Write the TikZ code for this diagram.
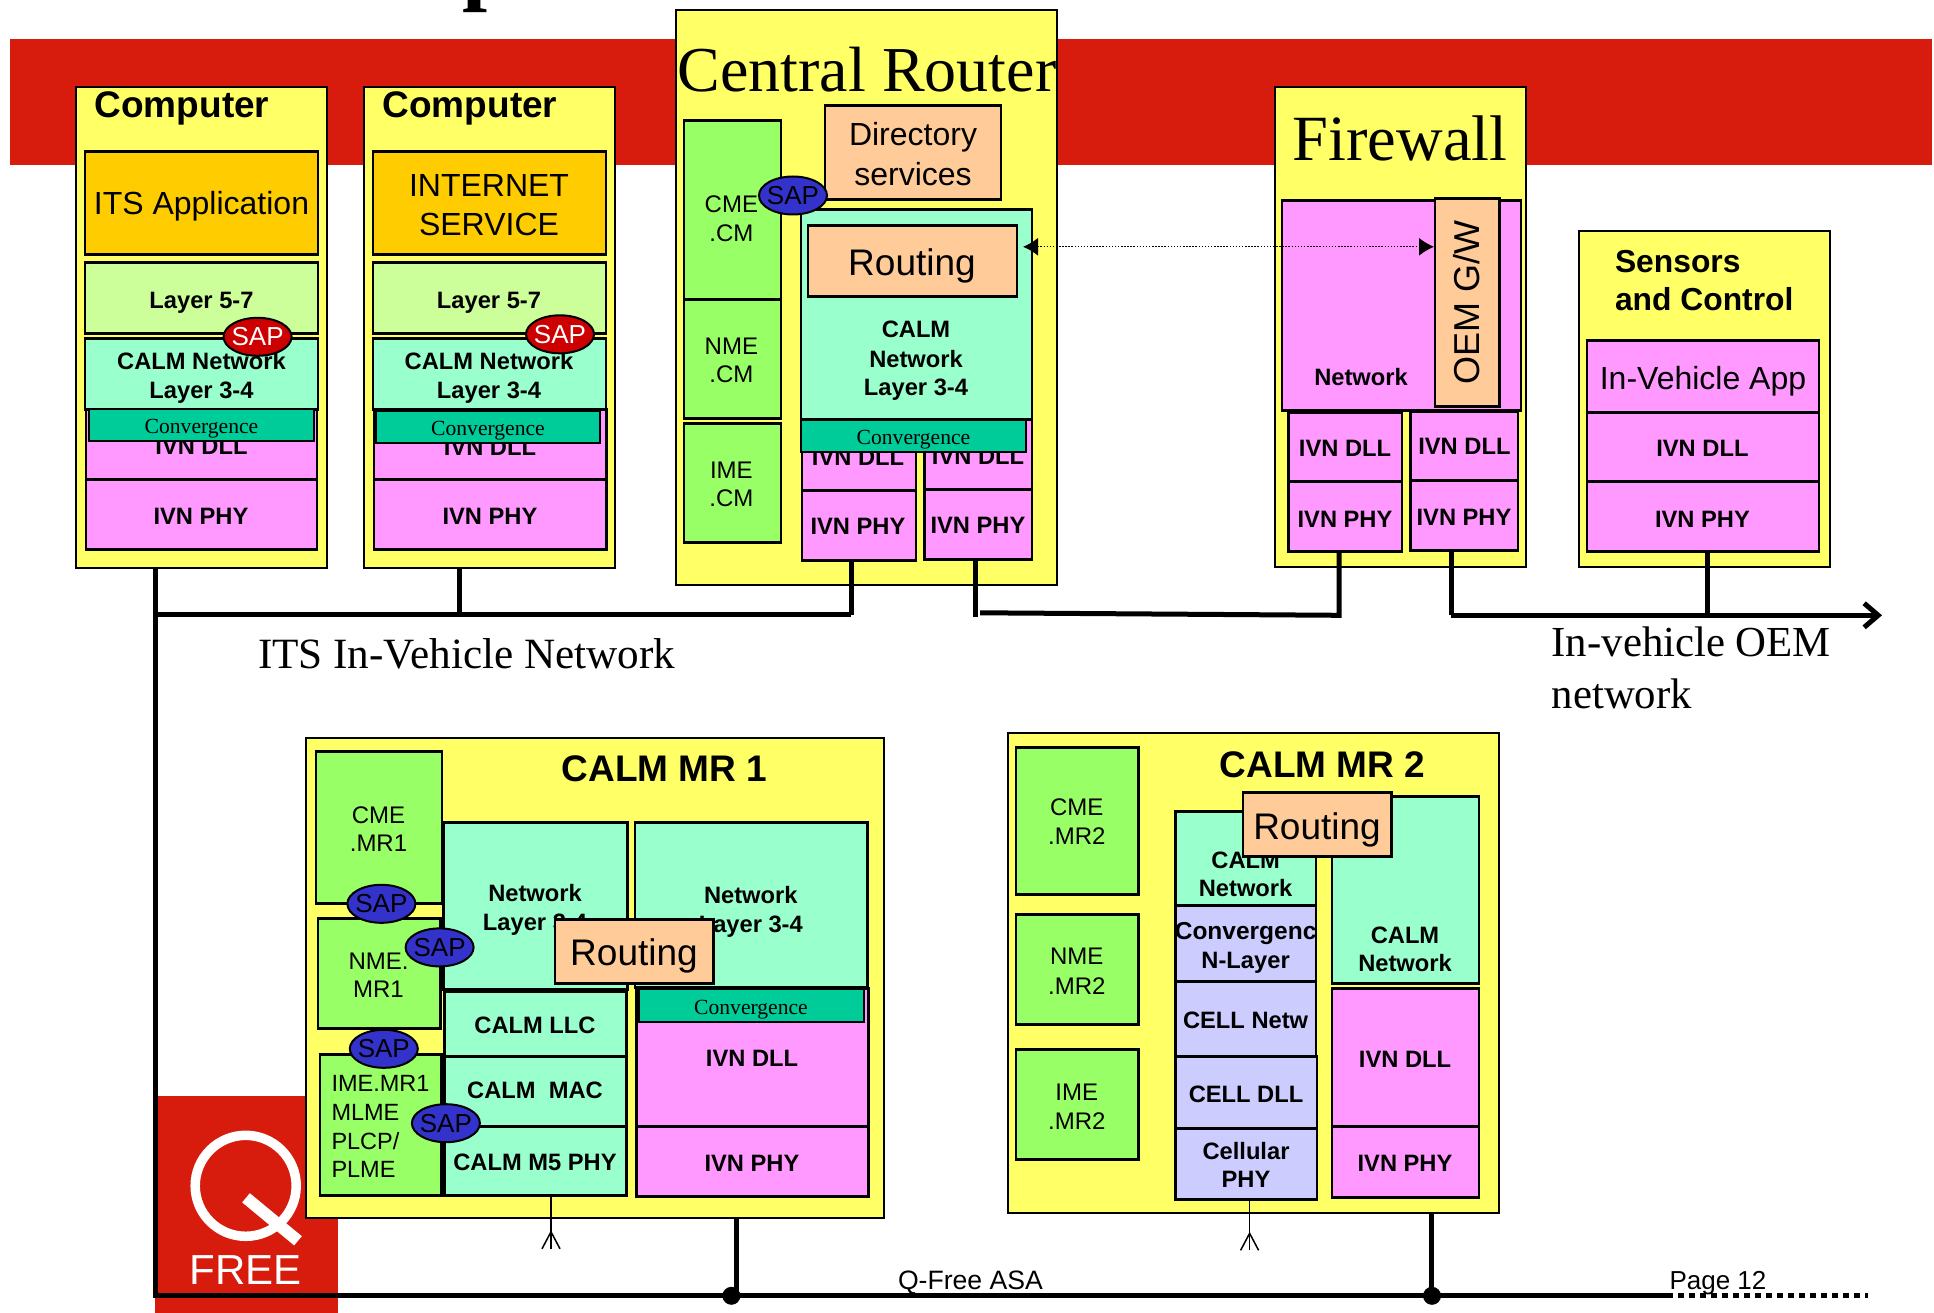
\documentclass[tikz,border=0pt]{standalone}
\usepackage{fontspec}
\setmainfont{Liberation Sans}
\newfontfamily\serifx{Liberation Serif}
\usetikzlibrary{shapes.geometric,arrows.meta}
\definecolor{bandred}{RGB}{215,27,13}
\definecolor{cyel}{RGB}{255,255,102}
\definecolor{corg}{RGB}{255,204,0}
\definecolor{clime}{RGB}{204,255,153}
\definecolor{cmint}{RGB}{153,255,204}
\definecolor{cteal}{RGB}{0,204,153}
\definecolor{cpink}{RGB}{255,153,255}
\definecolor{cgreen}{RGB}{153,255,102}
\definecolor{cpeach}{RGB}{255,204,153}
\definecolor{clav}{RGB}{204,204,255}
\definecolor{sapred}{RGB}{204,0,0}
\definecolor{sapblue}{RGB}{51,51,204}
\tikzset{
  boxbase/.style={draw=black,rectangle,inner sep=0pt,outer sep=0pt,line width=2.8pt},
  outerbox/.style={boxbase,fill=cyel,line width=2pt},
  orangebox/.style={boxbase,fill=corg},
  limebox/.style={boxbase,fill=clime},
  mintbox/.style={boxbase,fill=cmint},
  tealbox/.style={boxbase,fill=cteal,line width=2pt},
  pinkbox/.style={boxbase,fill=cpink},
  greenbox/.style={boxbase,fill=cgreen},
  peachbox/.style={boxbase,fill=cpeach},
  lavbox/.style={boxbase,fill=clav},
  sapnode/.style={ellipse,draw=black,line width=2pt,minimum width=68pt,minimum height=38pt,inner sep=-7pt,font=\fontsize{26}{26}\selectfont},
  sapr/.style={sapnode,fill=sapred,text=white},
  sapb/.style={sapnode,fill=sapblue,text=black},
  lbl/.style={inner sep=0pt,outer sep=0pt,anchor=base,align=center},
  wire/.style={line width=5pt,draw=black},
  antenna/.style={line width=1.5pt,draw=black},
  dotlink/.style={line width=1.3pt,dash pattern=on 1.5pt off 1.6pt,{Latex[length=15pt,width=18pt]}-{Latex[length=15pt,width=18pt]}}
}
\newcounter{lblc}
\newcommand\bx[6]{\pgfmathsetmacro\cxx{(#3+#5)/2}\pgfmathsetmacro\cyy{(#4+#6)/2}\pgfmathsetmacro\www{#5-#3}\pgfmathsetmacro\hhh{#6-#4}\node[#2,minimum width=\www pt,minimum height=\hhh pt] (#1) at (\cxx,\cyy) {};}
\newcommand\tx[5][]{\stepcounter{lblc}\pgfmathsetmacro\byy{#3+.36*#4}\node[lbl,font=\fontsize{#4}{#4}\selectfont#1] (t\thelblc) at (#2,\byy) {#5};}
\begin{document}
\begin{tikzpicture}[x=1pt,y=-1pt]
\useasboundingbox (0,-0.8) rectangle (1934,1312.2);
\clip (0,-0.8) rectangle (1934,1312.2);
\fill[white] (0,-0.8) rectangle (1934,1312.2);
% title fragment
\node[inner sep=0pt,outer sep=0pt,anchor=base west,font=\fontsize{90}{90}\selectfont\serifx\bfseries] (titlep) at (462,-7.5) {p};
% band and logo
\bx{band}{rectangle,fill=bandred,inner sep=0pt,outer sep=0pt}{10}{38}{1932}{164}
\bx{logo}{rectangle,fill=bandred,inner sep=0pt,outer sep=0pt}{155}{1095}{338}{1313}
\draw[white,line width=9.5pt] (245.7,1185) circle[radius=50.5];
\draw[white,line width=12pt] (246,1197) -- (298,1240);
\tx[\bfseries]{246}{1268.5}{42}{\textcolor{white}{\mdseries FREE}}
% Computer 1
\bx{cA}{outerbox}{76}{86}{327}{567}
\tx[\bfseries]{182}{103}{37}{Computer}
\bx{cAapp}{orangebox}{85}{150.5}{318}{254}
\tx{201.5}{202.5}{32}{ITS Application}
\bx{cAl57}{limebox}{85}{262}{318}{333}
\tx[\bfseries]{201.5}{299}{23.7}{Layer 5-7}
\bx{cAnet}{mintbox}{85}{338}{318}{408.5}
\tx[\bfseries]{201.5}{360}{23.7}{CALM Network}
\tx[\bfseries]{201.5}{389}{23.7}{Layer 3-4}
\bx{cAdll}{pinkbox}{86}{408.5}{317}{479}
\tx[\bfseries]{201.5}{445}{23.7}{IVN DLL}
\bx{cAcon}{tealbox}{89}{408.5}{313.5}{440.6}
\tx[\serifx]{201.5}{425.4}{21.6}{Convergence}
\bx{cAphy}{pinkbox}{86}{479}{317}{549}
\tx[\bfseries]{201}{514.7}{23.7}{IVN PHY}
\node[sapr] (cAsap) at (257.6,336) {SAP};
% Computer 2
\bx{cB}{outerbox}{364}{86}{615}{567}
\tx[\bfseries]{470}{103}{37}{Computer}
\bx{cBapp}{orangebox}{373}{150.5}{606}{254}
\tx{489}{184}{32}{INTERNET}
\tx{489}{223}{32}{SERVICE}
\bx{cBl57}{limebox}{373}{262}{606}{333}
\tx[\bfseries]{489}{299}{23.7}{Layer 5-7}
\bx{cBnet}{mintbox}{373}{338}{606}{408.5}
\tx[\bfseries]{489}{360}{23.7}{CALM Network}
\tx[\bfseries]{489}{389}{23.7}{Layer 3-4}
\bx{cBdll}{pinkbox}{374}{408.5}{606.5}{479}
\tx[\bfseries]{490}{446}{23.7}{IVN DLL}
\bx{cBcon}{tealbox}{376}{410}{600}{442}
\tx[\serifx]{488}{427}{21.6}{Convergence}
\bx{cBphy}{pinkbox}{374}{479}{606.5}{549}
\tx[\bfseries]{490}{515.6}{23.7}{IVN PHY}
\node[sapr] (cBsap) at (560,333.5) {SAP};
% Central Router
\bx{cr}{outerbox}{676}{9.4}{1057}{584}
\tx[\serifx]{867}{68}{64}{Central Router}
\bx{crCME}{greenbox}{684}{120}{781}{299}
\tx{731.4}{203}{24}{CME}
\tx{731.4}{232}{24}{.CM}
\bx{crNME}{greenbox}{684}{299}{781}{417.5}
\tx{731.4}{345}{24}{NME}
\tx{731.4}{373.5}{24}{.CM}
\bx{crIME}{greenbox}{684}{423}{781}{541.6}
\tx{731.4}{468.6}{24}{IME}
\tx{731.4}{496.7}{24}{.CM}
\bx{crDir}{peachbox}{825}{105}{1001}{199}
\tx{913}{133.5}{32}{Directory}
\tx{913}{173}{32}{services}
\bx{crNet}{mintbox}{801}{208.6}{1032}{419}
\bx{crRout}{peachbox}{808}{225}{1017}{296}
\tx{912}{261}{37}{Routing}
\tx[\bfseries]{916}{328.6}{23.7}{CALM}
\tx[\bfseries]{916}{358}{23.7}{Network}
\tx[\bfseries]{916}{385.7}{23.7}{Layer 3-4}
\bx{crDllA}{pinkbox}{802}{419}{916}{490}
\tx[\bfseries]{858}{456}{23.7}{IVN DLL}
\bx{crDllB}{pinkbox}{924.5}{419}{1032}{488.6}
\tx[\bfseries]{978}{455.5}{23.7}{IVN DLL}
\bx{crCon}{tealbox}{801}{419}{1026}{451}
\tx[\serifx]{913.5}{436}{21.6}{Convergence}
\bx{crPhyA}{pinkbox}{802}{490}{916}{560}
\tx[\bfseries]{858}{525}{23.7}{IVN PHY}
\bx{crPhyB}{pinkbox}{924.5}{488.6}{1032}{559}
\tx[\bfseries]{978}{524.5}{23.7}{IVN PHY}
\node[sapb] (crSap) at (793,194.7) {SAP};
% Firewall
\bx{fw}{outerbox}{1274.7}{86}{1526}{566.5}
\tx[\serifx]{1400}{136}{64.5}{Firewall}
\bx{fwNet}{pinkbox}{1282}{199.5}{1521}{409.5}
\tx[\bfseries]{1361}{376}{23.7}{Network}
\bx{fwGW}{peachbox}{1435}{198}{1499.6}{406}
\stepcounter{lblc}
\node[inner sep=0pt,outer sep=0pt,rotate=90,font=\fontsize{36}{36}\selectfont] (fwGWt) at (1467,302) {OEM G/W};
\bx{fwDllA}{pinkbox}{1288.6}{411.6}{1402}{481}
\tx[\bfseries]{1345}{447.4}{23.7}{IVN DLL}
\bx{fwPhyA}{pinkbox}{1288.6}{481}{1402}{551}
\tx[\bfseries]{1345}{517.7}{23.7}{IVN PHY}
\bx{fwDllB}{pinkbox}{1410.6}{411}{1518}{480}
\tx[\bfseries]{1464.4}{445.3}{23.7}{IVN DLL}
\bx{fwPhyB}{pinkbox}{1410.6}{480}{1518}{550}
\tx[\bfseries]{1464}{516.5}{23.7}{IVN PHY}
% Sensors
\bx{se}{outerbox}{1579}{230}{1830}{566.5}
\node[lbl,anchor=base west,font=\fontsize{31.8}{31.8}\selectfont\bfseries] (seTa) at (1615,272) {Sensors};
\node[lbl,anchor=base west,font=\fontsize{31.8}{31.8}\selectfont\bfseries] (seTb) at (1615,310) {and Control};
\bx{seApp}{pinkbox}{1587}{340}{1819}{411.6}
\tx{1703}{376.7}{32}{In-Vehicle App}
\bx{seDll}{pinkbox}{1587}{411.6}{1819}{481}
\tx[\bfseries]{1702.4}{447.4}{23.7}{IVN DLL}
\bx{sePhy}{pinkbox}{1587}{481}{1819}{551}
\tx[\bfseries]{1702.4}{517.7}{23.7}{IVN PHY}
% upper wiring
\coordinate (busL) at (155,614);
\coordinate (wB) at (459,614);
\coordinate (wCRa) at (851,614);
\coordinate (wCRb) at (975,616);
\coordinate (busBs) at (980,612);
\coordinate (wFa) at (1339,614.5);
\coordinate (wFb) at (1451,614.5);
\coordinate (wS) at (1707,614.5);
\coordinate (busEnd) at (1882,614.5);
\coordinate (busB) at (155,1295);
\coordinate (dotA) at (731.4,1295);
\coordinate (dotB) at (1432,1295);
\coordinate (busS) at (1667,1295);
\coordinate (busT) at (1868,1295);
\draw[wire] (busL |- cA.south) -- (busB) -- (busS);
\draw[wire,dash pattern=on 6pt off 5pt] (busS) -- (busT);
\draw[wire] (busL) -- (wCRa);
\draw[wire] (wB |- cB.south) -- (wB);
\draw[wire] (wCRa |- crPhyA.south) -- (wCRa);
\draw[wire] (wCRb |- crPhyB.south) -- (wCRb);
\draw[wire] (busBs) -- (wFa) -- (wFa |- fwPhyA.south);
\draw[wire] (wFb |- fwPhyB.south) -- (wFb);
\draw[wire] (wS |- sePhy.south) -- (wS);
\draw[wire,-{Straight Barb[length=14pt,width=24pt,line width=5pt]}] (wFb) -- (busEnd);
% dotted link
\coordinate (dlA) at (1023,246);
\coordinate (dlB) at (1434,246);
\draw[dotlink] (dlA) -- (dlB);
% free texts
\node[lbl,anchor=base west,font=\fontsize{43.2}{43.2}\selectfont\serifx] (itsT) at (258,668) {ITS In-Vehicle Network};
\node[lbl,anchor=base west,font=\fontsize{42.8}{42.8}\selectfont\serifx] (oemA) at (1551.7,656) {In-vehicle OEM};
\node[lbl,anchor=base west,font=\fontsize{42.8}{42.8}\selectfont\serifx] (oemB) at (1551.7,708) {network};
% CALM MR 1
\bx{mA}{outerbox}{306}{737}{884}{1217}
\tx[\bfseries]{664.6}{767.5}{37}{CALM MR 1}
\bx{mACME}{greenbox}{316}{751}{442}{903}
\tx{378.5}{813.8}{24}{CME}
\tx{378.5}{842}{24}{.MR1}
\bx{mANME}{greenbox}{318}{918}{440.5}{1027.5}
\tx{378.5}{960}{24}{NME.}
\tx{378.5}{988}{24}{MR1}
\bx{mAIME}{greenbox}{320}{1054}{441.5}{1195}
\node[lbl,anchor=base west,font=\fontsize{23.5}{23.5}\selectfont] (mAi1) at (331.5,1090.5) {IME.MR1};
\node[lbl,anchor=base west,font=\fontsize{23.5}{23.5}\selectfont] (mAi2) at (331.5,1120) {MLME};
\node[lbl,anchor=base west,font=\fontsize{23.5}{23.5}\selectfont] (mAi3) at (331.5,1148.5) {PLCP/};
\node[lbl,anchor=base west,font=\fontsize{23.5}{23.5}\selectfont] (mAi4) at (331.5,1177) {PLME};
\bx{mANetA}{mintbox}{443.4}{822}{627.6}{988.5}
\tx[\bfseries]{535}{892}{23.7}{Network}
\tx[\bfseries]{535}{921.6}{23.7}{Layer 3-4}
\bx{mANetB}{mintbox}{635}{822}{867.6}{986.6}
\tx[\bfseries]{750.8}{894}{23.7}{Network}
\tx[\bfseries]{750.8}{923}{23.7}{Layer 3-4}
\bx{mALLC}{mintbox}{444.4}{991}{626.7}{1056}
\tx[\bfseries]{535}{1023.7}{23.7}{CALM LLC}
\bx{mAMAC}{mintbox}{444.4}{1056}{626.7}{1125.5}
\tx[\bfseries]{535}{1089.5}{23.7}{CALM\ \ MAC}
\bx{mAPHY}{mintbox}{444.4}{1125.5}{626.7}{1195}
\tx[\bfseries]{535}{1161}{23.7}{CALM M5 PHY}
\bx{mADll}{pinkbox}{636.4}{988}{868.5}{1126}
\tx[\bfseries]{752}{1057}{23.7}{IVN DLL}
\bx{mACon}{tealbox}{639}{988.5}{863.7}{1020.7}
\tx[\serifx]{751}{1006}{21.6}{Convergence}
\bx{mAIvn}{pinkbox}{636.4}{1126}{868.5}{1196}
\tx[\bfseries]{752}{1162.5}{23.7}{IVN PHY}
\bx{mARout}{peachbox}{555}{918.6}{713.4}{983}
\tx{634}{951}{37}{Routing}
\node[sapb] (mAs1) at (381.4,903) {SAP};
\node[sapb] (mAs2) at (439.6,946.6) {SAP};
\node[sapb] (mAs3) at (383.8,1048) {SAP};
\node[sapb] (mAs4) at (445.9,1122.4) {SAP};
% CALM MR 2
\bx{mB}{outerbox}{1007.5}{732}{1499}{1212.5}
\tx[\bfseries]{1322.5}{763.7}{37}{CALM MR 2}
\bx{mBCME}{greenbox}{1016}{746.5}{1138.8}{894}
\tx{1076.8}{806}{24}{CME}
\tx{1076.8}{835}{24}{.MR2}
\bx{mBNME}{greenbox}{1016}{914}{1138.8}{1023.7}
\tx{1076.8}{955}{24}{NME}
\tx{1076.8}{985}{24}{.MR2}
\bx{mBIME}{greenbox}{1016}{1049}{1138.8}{1158.7}
\tx{1076.8}{1090.6}{24}{IME}
\tx{1076.8}{1120}{24}{.MR2}
\bx{mBNetA}{mintbox}{1175.7}{810.8}{1316}{904.6}
\tx[\bfseries]{1245.6}{858.8}{23.7}{CALM}
\tx[\bfseries]{1245.6}{887.5}{23.7}{Network}
\bx{mBConv}{lavbox}{1175.7}{904.6}{1316}{981}
\tx[\bfseries]{1245.6}{930}{24.5}{Convergenc}
\tx[\bfseries]{1245.6}{959}{23.7}{N-Layer}
\bx{mBCell}{lavbox}{1175.7}{981}{1316}{1056}
\tx[\bfseries]{1245.6}{1019.5}{23.7}{CELL Netw}
\bx{mBCDll}{lavbox}{1175.7}{1056}{1317}{1127.7}
\tx[\bfseries]{1246}{1093}{23.7}{CELL DLL}
\bx{mBCPhy}{lavbox}{1175.7}{1127.7}{1317}{1198.4}
\tx[\bfseries]{1246}{1150}{23.7}{Cellular}
\tx[\bfseries]{1246}{1178.5}{23.7}{PHY}
\bx{mBNetB}{mintbox}{1332}{795.6}{1479}{983}
\tx[\bfseries]{1405}{933.7}{23.7}{CALM}
\tx[\bfseries]{1405}{962}{23.7}{Network}
\bx{mBDll}{pinkbox}{1332}{987.8}{1479}{1125.8}
\tx[\bfseries]{1405}{1057.7}{23.7}{IVN DLL}
\bx{mBPhy}{pinkbox}{1332}{1125.8}{1479}{1196.5}
\tx[\bfseries]{1405}{1162.5}{23.7}{IVN PHY}
\bx{mBRout}{peachbox}{1243}{792}{1391.4}{856}
\tx{1317}{825}{37}{Routing}
% antennas
\coordinate (anA) at (551,1248);
\coordinate (anAf) at (551,1231);
\coordinate (anB) at (1249.6,1249.5);
\coordinate (anBf) at (1249.6,1232.5);
\draw[antenna] (anA |- mAPHY.south) -- (anA);
\draw[antenna] ([xshift=-9pt]anA) -- (anAf) -- ([xshift=9pt]anA);
\draw[antenna] (anB |- mBCPhy.south) -- (anB);
\draw[antenna] ([xshift=-9pt]anB) -- (anBf) -- ([xshift=9pt]anB);
% lower wires
\coordinate (wMA) at (736.7,1295);
\coordinate (wMB) at (1431,1295);
\draw[wire] (wMA |- mA.south) -- (wMA);
\draw[wire] (wMB |- mB.south) -- (wMB);
\fill[black] (dotA) circle[radius=9];
\fill[black] (dotB) circle[radius=9];
% footer
\node[lbl,anchor=base west,font=\fontsize{26.6}{26.6}\selectfont] (footA) at (898,1289) {Q-Free ASA};
\node[lbl,anchor=base west,font=\fontsize{26}{26}\selectfont] (footB) at (1669.5,1289) {Page 12};
\end{tikzpicture}
\end{document}
